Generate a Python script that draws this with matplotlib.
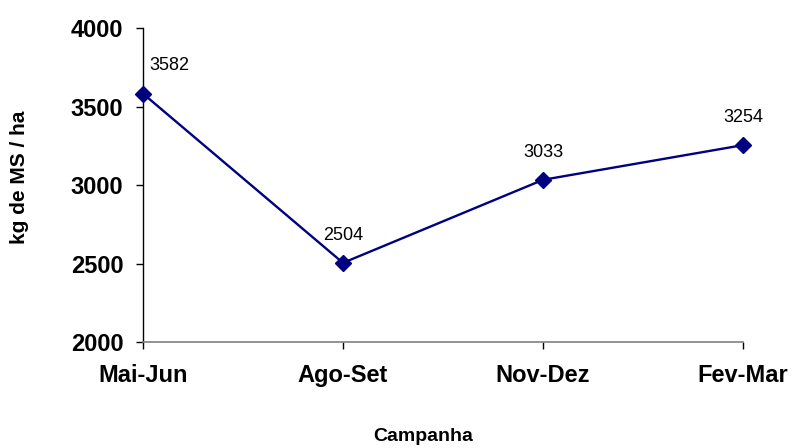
import matplotlib.pyplot as plt

# data
campanhas = ['Mai-Jun', 'Ago-Set', 'Nov-Dez', 'Fev-Mar']
kg_ms_ha = [3582, 2504, 3033, 3254]
y_ticks = [2000, 2500, 3000, 3500, 4000]

plt.rcParams['font.family'] = ['Liberation Sans', 'DejaVu Sans']

fig = plt.figure(figsize=(7.93, 4.48), dpi=100)
ax = fig.add_axes([0.1803, 0.2366, 0.937 - 0.1803, 0.9375 - 0.2366])

x = list(range(len(campanhas)))
ax.plot(x, kg_ms_ha, color='#000080', linewidth=1.7, marker='D',
        markersize=8.5, clip_on=False, zorder=3)

# value labels above the points (first one nudged right)
for i, v in enumerate(kg_ms_ha):
    dx = 19 if i == 0 else 0
    ax.annotate(str(v), (i, v), xytext=(dx, 20), textcoords='offset points',
                ha='center', va='center', fontsize=13)

ax.set_xlim(0, len(campanhas) - 1)
ax.set_ylim(2000, 4000)
ax.set_xticks(x)
ax.set_xticklabels(campanhas, fontsize=17, fontweight='bold')
ax.set_yticks(y_ticks)
ax.set_yticklabels([str(t) for t in y_ticks], fontsize=17, fontweight='bold')

ax.spines['top'].set_visible(False)
ax.spines['right'].set_visible(False)
ax.spines['bottom'].set_color('#808080')
ax.spines['bottom'].set_linewidth(1.2)
ax.spines['left'].set_color('black')
ax.spines['left'].set_linewidth(1.0)
ax.tick_params(axis='y', direction='out', length=5, width=1, pad=9)
ax.tick_params(axis='x', direction='out', length=5, width=1, pad=11)

# axis titles placed in figure pixels to match the reference
fig.text(423 / 793, 1 - 436 / 448, 'Campanha', fontsize=14, fontweight='bold',
         ha='center', va='center')
fig.text(20 / 793, 1 - 177 / 448, 'kg de MS / ha', fontsize=15, fontweight='bold',
         ha='center', va='center', rotation=90)

fig.savefig('out.png', dpi=100)
